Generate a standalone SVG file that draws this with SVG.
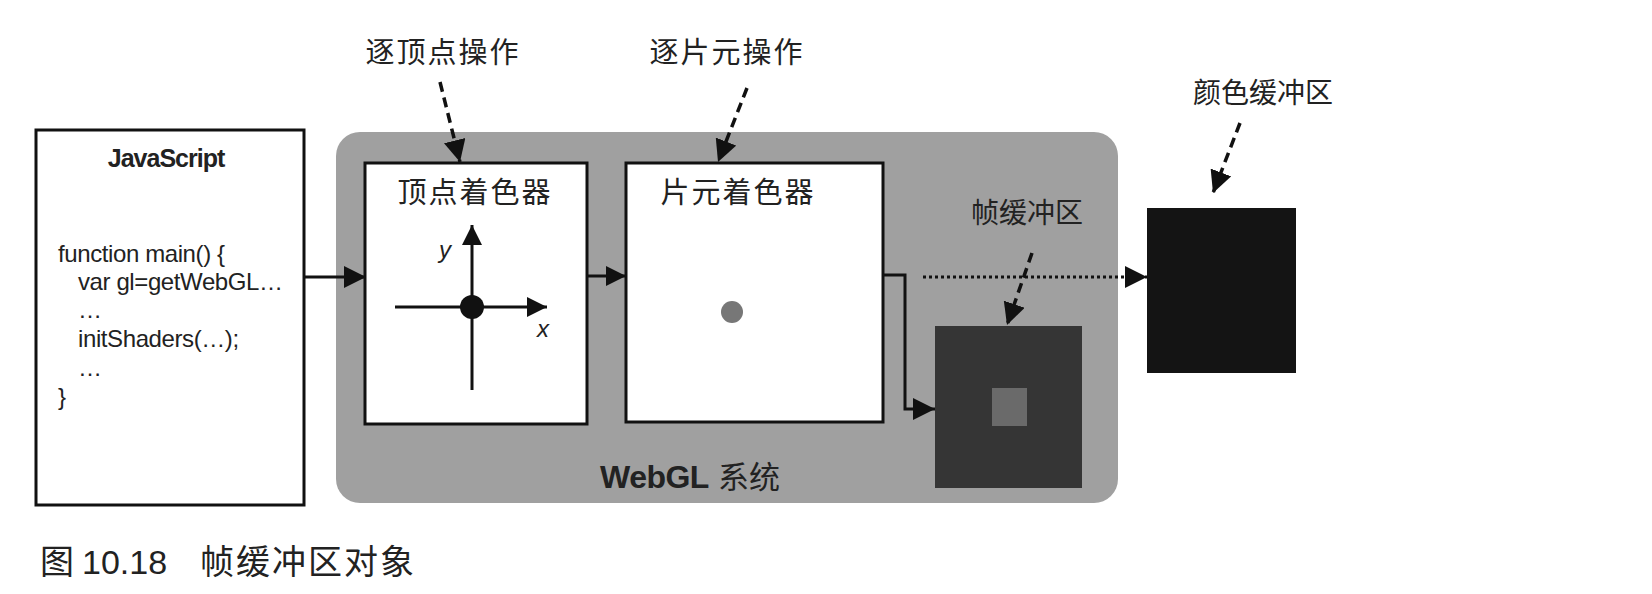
<svg xmlns="http://www.w3.org/2000/svg" width="1652" height="594" viewBox="0 0 1652 594">
<style>
.cjk{font-family:"Liberation Sans","Noto Sans CJK SC",sans-serif;fill:#222}
.lat{font-family:"Liberation Sans","Noto Sans CJK SC",sans-serif;fill:#222}
.code{font-family:"Liberation Sans",sans-serif;font-size:24px;letter-spacing:-0.4px;fill:#222}
.box{fill:#fff;stroke:#111;stroke-width:3}
.conn{fill:none;stroke:#111;stroke-width:3}
.dash{fill:none;stroke:#111;stroke-width:3.5;stroke-dasharray:10 6}
.dot{fill:none;stroke:#111;stroke-width:3;stroke-dasharray:3 3}
</style>
<defs>
<marker id="ah" viewBox="0 0 22 22" refX="22" refY="11" markerWidth="22" markerHeight="22" markerUnits="userSpaceOnUse" orient="auto">
<path d="M0,0 L22,11 L0,22 Z" fill="#111"/>
</marker>
<marker id="ahs" viewBox="0 0 22 22" refX="22" refY="11" markerWidth="20" markerHeight="20" markerUnits="userSpaceOnUse" orient="auto">
<path d="M0,0 L22,11 L0,22 Z" fill="#111"/>
</marker>
</defs>
<rect width="1652" height="594" fill="#fff"/>

<g id="webgl-system">
<rect x="336" y="132" width="782" height="371" rx="24" fill="#a0a0a0"/>
<text x="600" y="488" class="lat" font-size="32" font-weight="bold" letter-spacing="-0.5">WebGL</text>
<text x="718" y="488" class="cjk" font-size="31">系统</text>
</g>

<g id="javascript">
<rect x="36" y="130" width="268" height="375" class="box"/>
<text x="166" y="167" class="lat" font-size="25" font-weight="bold" text-anchor="middle" letter-spacing="-1">JavaScript</text>
<text x="58" y="262" class="code">function main() {</text>
<text x="78" y="290" class="code">var gl=getWebGL…</text>
<text x="78" y="318" class="code">…</text>
<text x="78" y="347" class="code">initShaders(…);</text>
<text x="78" y="376" class="code">…</text>
<text x="58" y="405" class="code">}</text>
</g>

<g id="vertex-shader">
<rect x="365" y="163" width="222" height="261" class="box"/>
<text x="475" y="203" class="cjk" font-size="29" letter-spacing="2" text-anchor="middle">顶点着色器</text>
<line x1="472" y1="390" x2="472" y2="225" class="conn" marker-end="url(#ahs)"/>
<line x1="395" y1="307" x2="547" y2="307" class="conn" marker-end="url(#ahs)"/>
<circle cx="472" cy="307" r="12" fill="#111"/>
<text x="439" y="258" class="lat" font-size="24" font-style="italic">y</text>
<text x="537" y="337" class="lat" font-size="24" font-style="italic">x</text>
</g>

<g id="fragment-shader">
<rect x="626" y="163" width="257" height="259" class="box"/>
<text x="738" y="203" class="cjk" font-size="29" letter-spacing="2" text-anchor="middle">片元着色器</text>
<circle cx="732" cy="312" r="11" fill="#777"/>
</g>

<g id="framebuffer">
<rect x="935" y="326" width="147" height="162" fill="#353535"/>
<rect x="992" y="388" width="35" height="38" fill="#6a6a6a"/>
<text x="1027" y="223" class="cjk" font-size="28" text-anchor="middle" fill="#333">帧缓冲区</text>
</g>

<g id="color-buffer">
<rect x="1147" y="208" width="149" height="165" fill="#141414"/>
<text x="1263" y="103" class="cjk" font-size="28" text-anchor="middle">颜色缓冲区</text>
</g>

<g id="labels">
<text x="443" y="63" class="cjk" font-size="29" letter-spacing="2" text-anchor="middle">逐顶点操作</text>
<text x="727" y="63" class="cjk" font-size="29" letter-spacing="2" text-anchor="middle">逐片元操作</text>
</g>

<g id="connectors">
<line x1="304" y1="277" x2="366" y2="277" class="conn" marker-end="url(#ah)"/>
<line x1="587" y1="276" x2="626" y2="276" class="conn" marker-end="url(#ahs)"/>
<polyline points="883,275 905,275 905,409 935,409" class="conn" marker-end="url(#ah)"/>
<line x1="923" y1="277" x2="1147" y2="277" class="dot" marker-end="url(#ah)"/>
<line x1="440" y1="82" x2="460" y2="162" class="dash" marker-end="url(#ah)"/>
<line x1="747" y1="88" x2="718" y2="162" class="dash" marker-end="url(#ah)"/>
<line x1="1240" y1="123" x2="1213" y2="193" class="dash" marker-end="url(#ah)"/>
<line x1="1032" y1="253" x2="1007" y2="325" class="dash" marker-end="url(#ah)"/>
</g>

<g id="caption">
<text x="40" y="574" class="cjk" font-size="34">图</text>
<text x="82" y="574" class="lat" font-size="34">10.18</text>
<text x="200" y="574" class="cjk" font-size="34" letter-spacing="2">帧缓冲区对象</text>
</g>
</svg>
